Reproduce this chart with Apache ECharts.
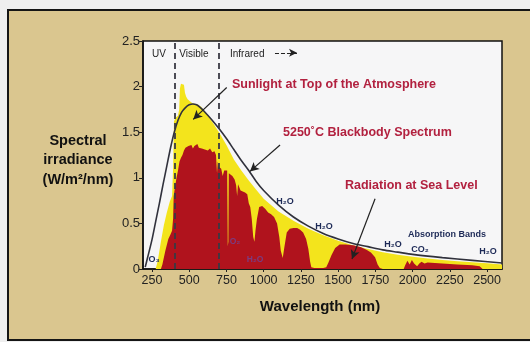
<!DOCTYPE html>
<html>
<head>
<meta charset="utf-8">
<script src="https://cdn.jsdelivr.net/npm/echarts@6/dist/echarts.min.js"></script>
<style>
html,body{margin:0;padding:0;background:#efefef;}
#c{width:530px;height:342px;}
</style>
</head>
<body>
<div id="c"></div>
<script>
// Wavelength ticks (nm)
const xTicks = [250, 500, 750, 1000, 1250, 1500, 1750, 2000, 2250, 2500];

// Sunlight at top of the atmosphere (yellow)
const topWl  = [275, 290, 310, 330, 350, 370, 385, 392, 398, 410, 425, 433, 438, 445, 455, 465, 472, 480, 490, 505, 520, 540, 560, 580, 600, 620, 640, 660, 680, 700, 750, 800, 850, 900, 950, 1000, 1100, 1200, 1300, 1400, 1500, 1600, 1700, 1800, 1900, 2000, 2100, 2200, 2300, 2400, 2500, 2600];
const topVal = [0, 0.1, 0.3, 0.48, 0.62, 0.74, 0.8, 1.1, 1.62, 1.66, 1.68, 1.75, 1.98, 2.03, 2.04, 2.02, 1.93, 1.89, 1.86, 1.84, 1.82, 1.81, 1.8, 1.78, 1.74, 1.69, 1.65, 1.6, 1.55, 1.5, 1.36, 1.2, 1.08, 0.97, 0.87, 0.77, 0.63, 0.53, 0.44, 0.37, 0.31, 0.26, 0.22, 0.185, 0.155, 0.135, 0.115, 0.1, 0.085, 0.075, 0.062, 0.05];

// Radiation at sea level (red)
const seaWl  = [310, 320, 340, 360, 375, 385, 392, 396, 405, 415, 425, 435, 445, 455, 465, 475, 485, 495, 505, 515, 525, 535, 545, 555, 565, 575, 585, 595, 605, 615, 625, 640, 655, 670, 680, 687, 692, 700, 715, 725, 735, 745, 755, 759, 763, 766, 775, 790, 805, 815, 822, 828, 845, 860, 875, 890, 900, 910, 920, 930, 938, 945, 955, 970, 990, 1010, 1030, 1050, 1070, 1090, 1105, 1115, 1128, 1140, 1155, 1175, 1200, 1225, 1245, 1265, 1285, 1300, 1312, 1320, 1340, 1400, 1420, 1435, 1455, 1480, 1510, 1550, 1600, 1650, 1690, 1720, 1748, 1765, 1780, 1800, 1940, 1950, 1965, 1980, 1995, 2010, 2030, 2045, 2060, 2080, 2100, 2200, 2300, 2400, 2450, 2470];
const seaVal = [0, 0.05, 0.2, 0.33, 0.38, 0.42, 0.55, 0.8, 0.9, 1.0, 1.08, 1.18, 1.22, 1.25, 1.3, 1.33, 1.31, 1.35, 1.33, 1.36, 1.32, 1.35, 1.34, 1.37, 1.33, 1.35, 1.32, 1.34, 1.31, 1.33, 1.3, 1.32, 1.28, 1.29, 1.25, 1.05, 1.18, 1.12, 1.1, 1.02, 1.08, 1.1, 1.08, 0.25, 0.3, 1.05, 1.05, 1.02, 0.98, 0.92, 0.8, 0.93, 0.86, 0.85, 0.84, 0.82, 0.72, 0.68, 0.55, 0.35, 0.3, 0.42, 0.55, 0.68, 0.69, 0.66, 0.62, 0.6, 0.57, 0.5, 0.35, 0.2, 0.12, 0.25, 0.4, 0.44, 0.45, 0.45, 0.43, 0.4, 0.33, 0.22, 0.08, 0.02, 0.01, 0.01, 0.02, 0.07, 0.15, 0.23, 0.27, 0.27, 0.26, 0.24, 0.21, 0.18, 0.13, 0.05, 0.01, 0, 0, 0.04, 0.09, 0.05, 0.1, 0.06, 0.03, 0.06, 0.08, 0.06, 0.07, 0.06, 0.05, 0.04, 0.03, 0];

// 5250 °C blackbody spectrum (line)
const bbWl  = [205, 220, 250, 275, 300, 325, 350, 375, 400, 425, 450, 475, 500, 525, 550, 575, 600, 650, 700, 750, 800, 850, 900, 950, 1000, 1100, 1200, 1300, 1400, 1500, 1600, 1700, 1800, 1900, 2000, 2200, 2400, 2600];
const bbVal = [0.02, 0.12, 0.32, 0.52, 0.72, 0.93, 1.13, 1.33, 1.5, 1.63, 1.72, 1.77, 1.8, 1.81, 1.8, 1.77, 1.73, 1.64, 1.54, 1.43, 1.31, 1.19, 1.08, 0.96, 0.86, 0.7, 0.57, 0.47, 0.39, 0.33, 0.28, 0.245, 0.21, 0.185, 0.16, 0.125, 0.095, 0.065];

// Region boundaries (nm)
const bandEdges = [400, 700];

const zip = (a, b) => a.map((v, i) => [v, b[i]]);

const chart = echarts.init(document.getElementById('c'), null, {renderer: 'canvas', width: 530, height: 342});

const F = '"Liberation Sans", Arial, sans-serif';
const red = '#b2213f';
const navy = '#1d2a57';
const purple = '#7b3c80';

function txt(x, y, text, fill, size, weight, align) {
  return {
    type: 'text', z: 100,
    style: {
      x: x, y: y, text: text, fill: fill,
      font: (weight || 'normal') + ' ' + size + 'px ' + F,
      textAlign: align || 'center', textVerticalAlign: 'middle',
      align: align || 'center', verticalAlign: 'middle'
    }
  };
}

const arrowLine = (a, b) => [{coord: a}, {coord: b}];

const option = {
  animation: false,
  backgroundColor: 'transparent',
  grid: {left: 143, right: 28, top: 41, bottom: 73, show: true, backgroundColor: '#f6f6f7', borderColor: '#111', borderWidth: 1.5},
  xAxis: {
    type: 'value', min: 190, max: 2600,
    axisLine: {show: true, onZero: false, lineStyle: {color: '#111', width: 1.5}},
    axisTick: {show: true, customValues: xTicks, length: 3, lineStyle: {color: '#222'}},
    axisLabel: {customValues: xTicks, color: '#222', fontSize: 12.5, fontFamily: F, margin: 5, formatter: v => String(v)},
    splitLine: {show: false}
  },
  yAxis: {
    type: 'value', min: 0, max: 2.5, interval: 0.5,
    axisLine: {show: true, lineStyle: {color: '#111', width: 1.5}},
    axisTick: {show: true, length: 4, lineStyle: {color: '#222'}},
    axisLabel: {color: '#222', fontSize: 13, fontFamily: F, margin: 3},
    splitLine: {show: false}
  },
  series: [
    {
      type: 'line', data: zip(topWl, topVal), showSymbol: false, symbol: 'none', z: 2,
      lineStyle: {width: 0}, areaStyle: {color: '#f3e41c', opacity: 1}
    },
    {
      type: 'line', data: zip(seaWl, seaVal), showSymbol: false, symbol: 'none', z: 3,
      lineStyle: {width: 0}, areaStyle: {color: '#b0131d', opacity: 1}
    },
    {
      type: 'line', data: zip(bbWl, bbVal), showSymbol: false, symbol: 'none', z: 4, smooth: 0.3,
      lineStyle: {color: '#30313c', width: 1.6},
      markLine: {
        silent: true, symbol: ['none', 'none'], animation: false, z: 5,
        label: {show: false},
        lineStyle: {color: '#3a3a44', type: [6, 4], width: 1.8},
        data: bandEdges.map(v => [{coord: [v, 0]}, {coord: [v, 2.5]}])
      }
    },
    {
      type: 'line', data: [], z: 6,
      markLine: {
        silent: true, symbol: ['none', 'arrow'], symbolSize: [7, 9], animation: false,
        label: {show: false},
        lineStyle: {color: '#222', type: 'solid', width: 1.2},
        data: [
          arrowLine([752, 1.99], [527, 1.64]),
          arrowLine([1110, 1.36], [908, 1.07]),
          arrowLine([1748, 0.77], [1593, 0.11])
        ]
      }
    },
    {
      type: 'line', data: [], z: 6,
      markLine: {
        silent: true, symbol: ['none', 'arrow'], symbolSize: [6, 8], animation: false,
        label: {show: false},
        lineStyle: {color: '#222', type: [4, 2], width: 1.2},
        data: [arrowLine([1076, 2.37], [1224, 2.37])]
      }
    }
  ],
  graphic: [
    {type: 'rect', z: -10, shape: {x: 8, y: 10, width: 540, height: 330}, style: {fill: '#dac68f', stroke: '#151515', lineWidth: 2}},
    txt(159, 54, 'UV', '#222', 10),
    txt(194, 54, 'Visible', '#222', 10),
    txt(230, 54, 'Infrared', '#222', 10, 'normal', 'left'),
    txt(232, 85, 'Sunlight at Top of the Atmosphere', red, 12.5, 'bold', 'left'),
    txt(283, 133, '5250˚C Blackbody Spectrum', red, 12.5, 'bold', 'left'),
    txt(345, 186, 'Radiation at Sea Level', red, 12.5, 'bold', 'left'),
    txt(285, 202, 'H₂O', navy, 9, 'bold'),
    txt(324, 227, 'H₂O', navy, 9, 'bold'),
    txt(393, 245, 'H₂O', navy, 9, 'bold'),
    txt(420, 250, 'CO₂', navy, 9, 'bold'),
    txt(447, 235, 'Absorption Bands', navy, 9, 'bold'),
    txt(488, 252, 'H₂O', navy, 9, 'bold'),
    txt(154, 260, 'O₃', navy, 9, 'bold'),
    txt(235, 242, 'O₂', purple, 8.5, 'bold'),
    txt(255, 260, 'H₂O', purple, 8.5, 'bold'),
    {
      type: 'text', z: 100,
      style: {
        x: 78, y: 160, text: 'Spectral\nirradiance\n(W/m²/nm)', fill: '#111',
        font: 'bold 14.5px ' + F, lineHeight: 19.5,
        textAlign: 'center', textVerticalAlign: 'middle', align: 'center', verticalAlign: 'middle'
      }
    },
    txt(320, 307, 'Wavelength (nm)', '#111', 15, 'bold')
  ]
};

chart.setOption(option);
</script>
</body>
</html>
